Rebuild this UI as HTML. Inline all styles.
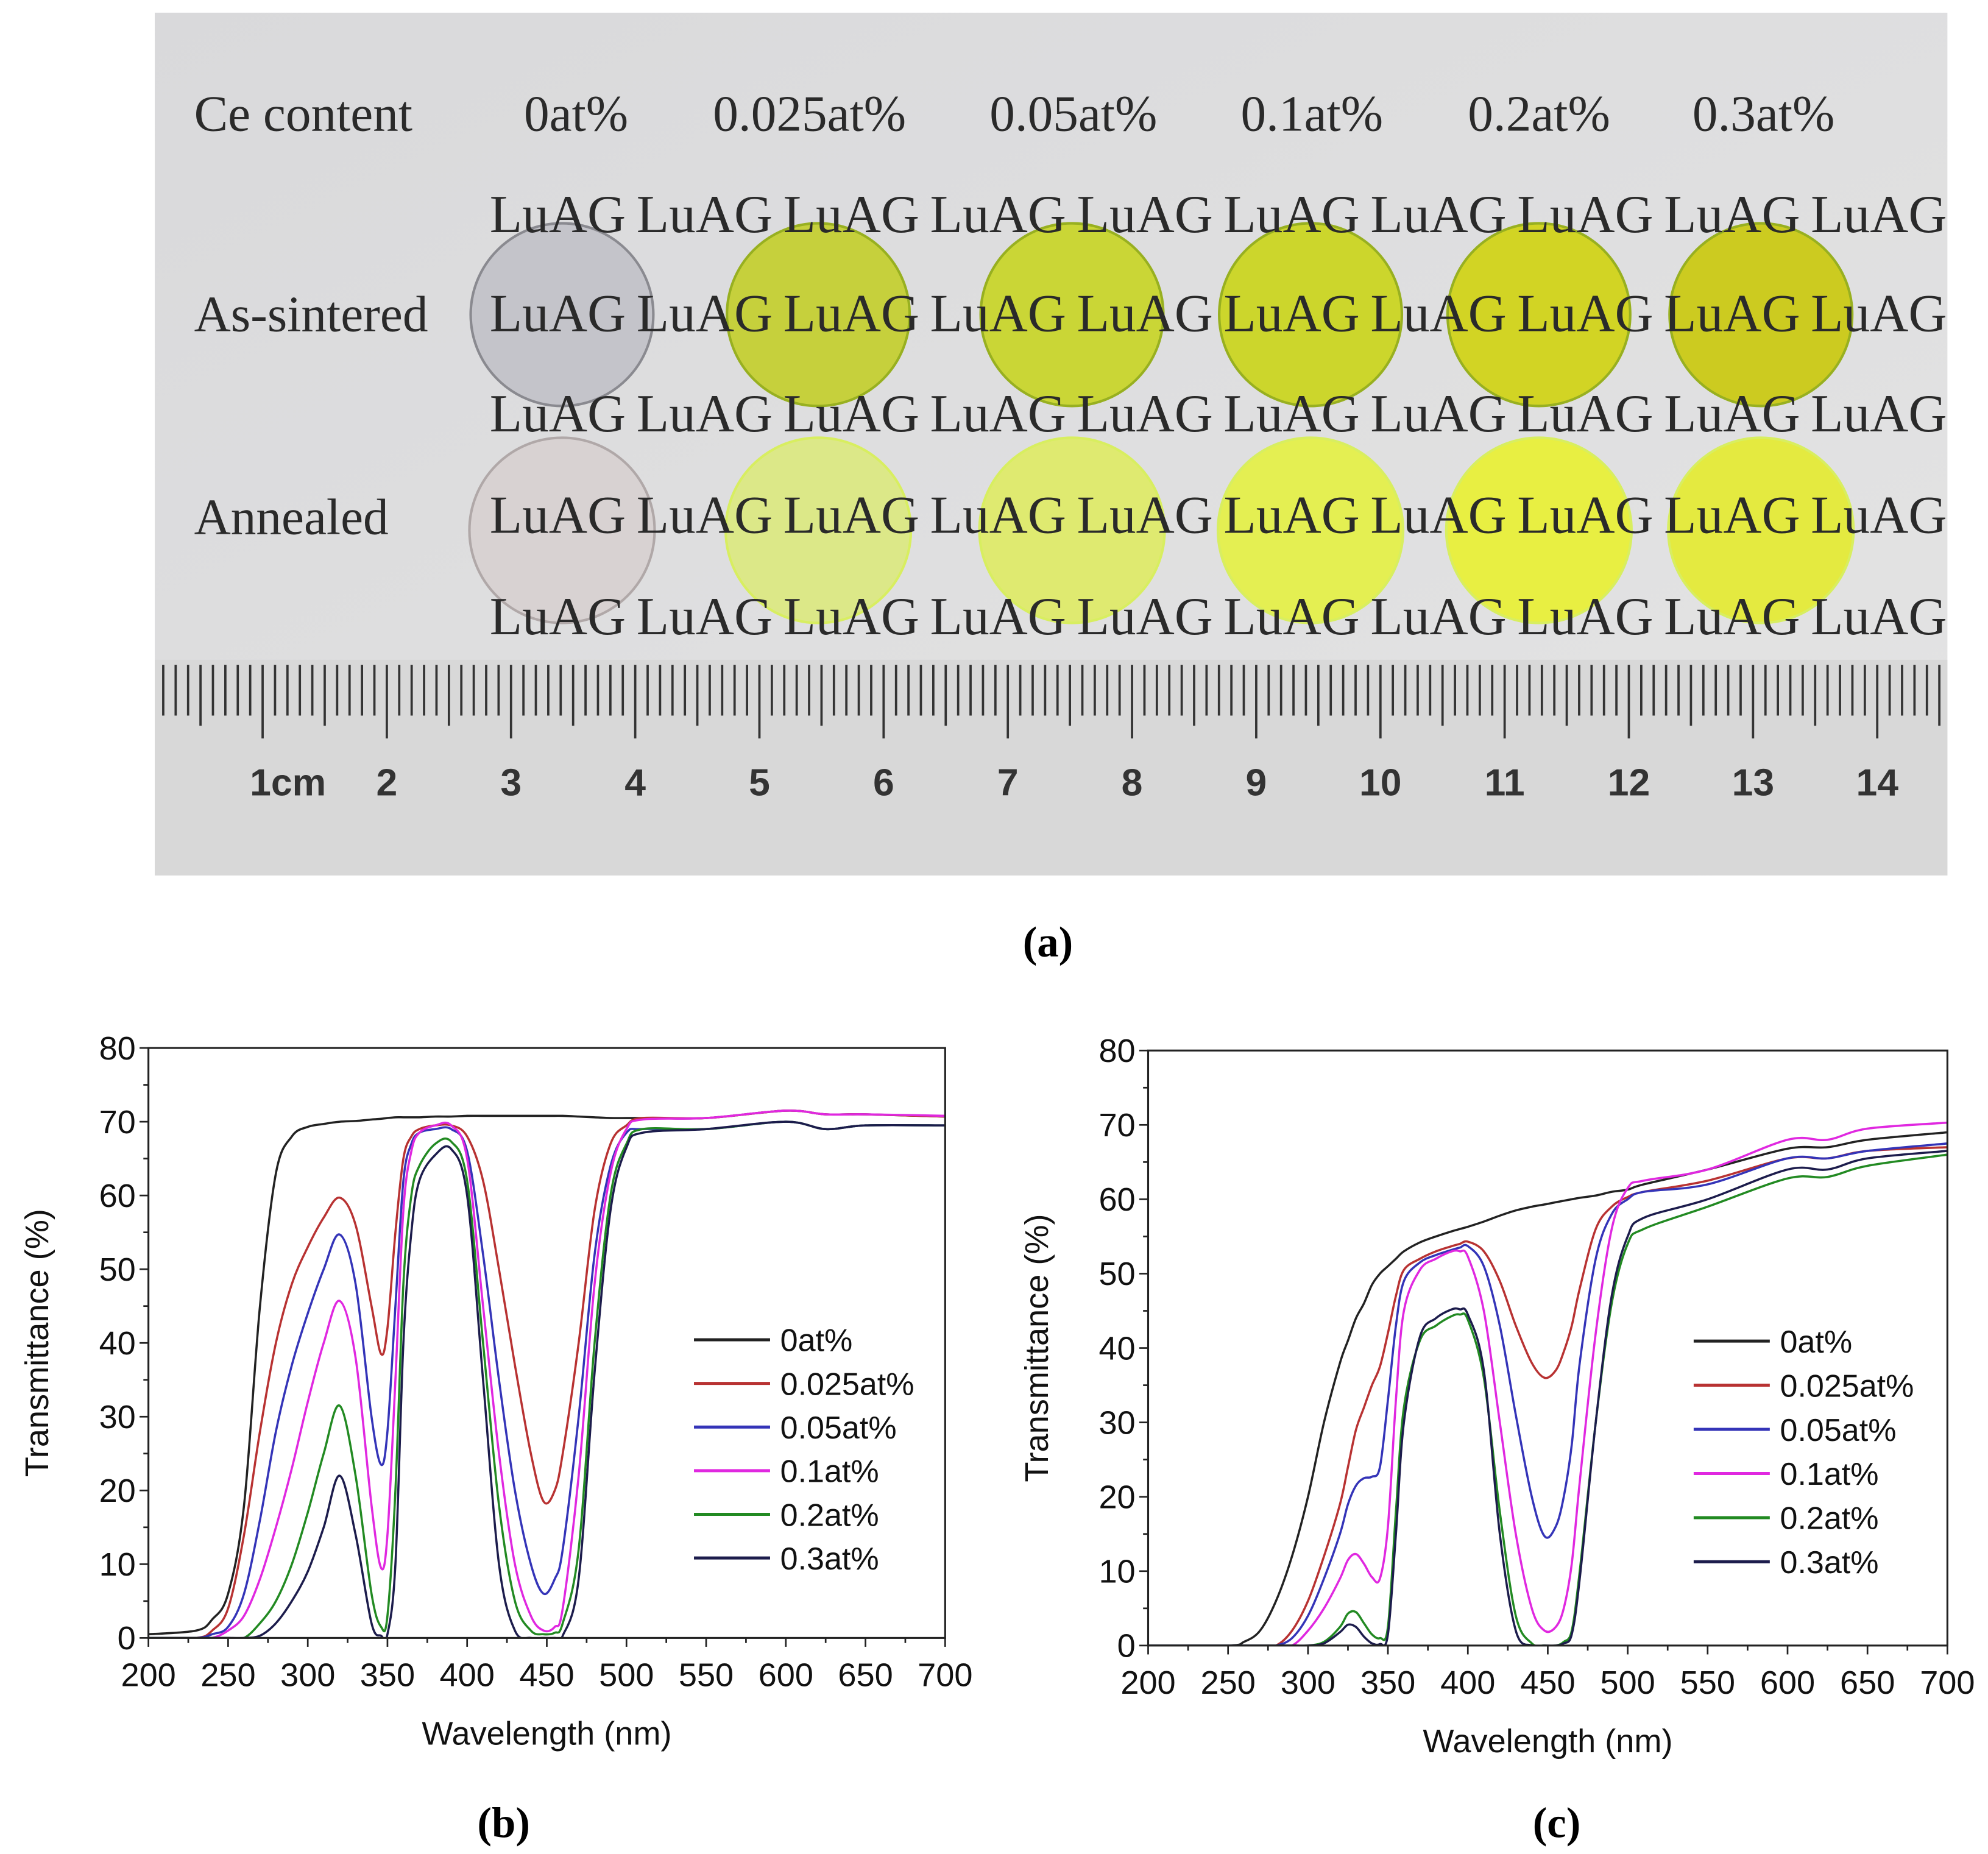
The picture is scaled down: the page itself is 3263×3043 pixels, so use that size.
<!DOCTYPE html>
<html><head><meta charset="utf-8"><style>
html,body{margin:0;padding:0;background:#fff;}
svg{display:block;}
.serif{font-family:"Liberation Serif",serif;}
.sans{font-family:"Liberation Sans",sans-serif;}
</style></head><body>
<svg id="fig" xmlns="http://www.w3.org/2000/svg" width="3263" height="3043" viewBox="0 0 1567 1461.3" preserveAspectRatio="none">
<defs>
<linearGradient id="bg" x1="0" y1="0" x2="1" y2="1">
<stop offset="0" stop-color="#d9d9db"/><stop offset="1" stop-color="#e4e4e4"/>
</linearGradient>
</defs>
<g id="photo">
<rect x="122" y="10" width="1413" height="680" fill="url(#bg)"/>
<rect x="122" y="520" width="1413" height="170" fill="#d8d8d8"/>
<g id="discs"></g>
<g id="texts" class="serif" fill="#2a2a2a" font-size="40"></g>
<g id="ruler"></g>
</g>
<text x="826" y="754" class="serif" font-weight="bold" font-size="34" text-anchor="middle">(a)</text>
<g id="chartB"></g>
<g id="chartC"></g>
<text x="397" y="1448" class="serif" font-weight="bold" font-size="34" text-anchor="middle">(b)</text>
<text x="1227" y="1448" class="serif" font-weight="bold" font-size="34" text-anchor="middle">(c)</text>
</svg>
<script>
var NS='http://www.w3.org/2000/svg';
var seriesNames=['0at%','0.025at%','0.05at%','0.1at%','0.2at%','0.3at%'];
var seriesColors=['#222222','#b83232','#3434b8','#e028e0','#228a22','#1c1c4c'];
var xTicks=[200,250,300,350,400,450,500,550,600,650,700];
var yTicks=[0,10,20,30,40,50,60,70,80];

var wavB=[200,230,240,250,260,270,280,290,300,310,320,330,340,346,350,355,360,365,370,380,390,400,410,420,430,440,448,455,460,470,480,490,500,510,550,600,625,650,700];
var b0=[0.5,1,2.5,6,18,45,63,68,69.3,69.7,70,70.1,70.3,70.4,70.5,70.6,70.6,70.6,70.6,70.7,70.7,70.8,70.8,70.8,70.8,70.8,70.8,70.8,70.8,70.7,70.6,70.5,70.5,70.5,70.5,71.5,71,71,70.7];
var b1=[0,0,1,4,14,28,40,48,53,57,59.7,56,45,38.5,42,55,65,68,69,69.5,69.5,68,62,50,37,25,18.5,20,25,40,58,67,69.5,70.5,70.5,71.5,71,71,70.7];
var b2=[0,0,0.5,1.5,6,16,28,37,44,50,54.7,48,30,23.5,28,45,62,67,68.5,69,69,66,52,35,20,10,6,8,12,30,52,64,68.5,69,69,70,69,69.5,69.5];
var b3=[0,0,0,1,3,8,15,23,32,40,45.7,38,18,9.5,14,35,58,66,68.5,69.5,69.5,65,45,25,10,3,1,1.5,4,22,48,63,69,70.3,70.5,71.5,71,71,70.8];
var b4=[0,0,0,0,0,2,5,10,17,25,31.5,22,6,1.5,3,20,48,60,64,67,67.3,62,40,18,5,1,0.5,0.7,2,12,40,60,67,69,69,70,69,69.5,69.5];
var b5=[0,0,0,0,0,0.3,2,5,9,15,22,14,2,0.3,0.5,10,40,55,62,65.5,66.3,60,35,10,1,0,0,0,0.3,8,36,58,66.5,68.5,69,70,69,69.5,69.5];

var wavC=[200,250,260,270,280,290,300,310,320,325,330,335,340,345,350,355,360,370,380,390,395,400,410,420,430,440,448,455,460,465,470,480,490,500,510,550,600,625,650,700];
var c0=[0,0,0.5,2,6,12,20,30,38,41,44,46,48.5,50,51,52,53,54.2,55,55.7,56,56.3,57,57.8,58.5,59,59.3,59.6,59.8,60,60.2,60.5,61,61.3,62,64,66.8,67,68,69];
var c1=[0,0,0,0,0,2,6,12,19,24,29,32,35,37.5,42,47,50.5,52,53,53.7,54,54.3,53,49,43,38,36,37,39.5,43,48,56,59,60.3,61,62.5,65.5,65.5,66.5,67];
var c2=[0,0,0,0,0,1,4,9,15,19,21.5,22.5,22.7,24,33,43,49,51.5,52.5,53.2,53.5,53.7,51,43,31,20,14.7,16,20,27,38,52,58,60,61,62,65.5,65.5,66.5,67.5];
var c3=[0,0,0,0,0,0,2,5,9,11.5,12.3,11,9.2,9,16,33,45,50.5,52,53,53,52.3,45,30,15,5,2,2.5,5,11,22,42,56,61.5,62.5,64,68,68,69.5,70.3];
var c4=[0,0,0,0,0,0,0,0.5,2.5,4.3,4.5,3,1.5,1,2.5,18,32,41,43,44.3,44.5,43.8,36,18,4,0.3,0,0,0.5,2,10,30,46,54,56,59,62.8,63,64.5,66];
var c5=[0,0,0,0,0,0,0,0.3,1.8,2.8,2.5,1.2,0.3,0.2,1.5,15,30,41.5,44,45.2,45.2,44.5,37,15,2,0,0,0,0.3,1.5,9,30,47,55,57.5,60,64,64,65.5,66.5];

function mk(tag,attrs,parent){var e=document.createElementNS(NS,tag);for(var k in attrs)e.setAttribute(k,attrs[k]);if(parent)parent.appendChild(e);return e;}

function smoothPath(pts){
  var d='M'+pts[0][0].toFixed(2)+','+pts[0][1].toFixed(2);
  for(var i=0;i<pts.length-1;i++){
    var p0=pts[i-1]||pts[i],p1=pts[i],p2=pts[i+1],p3=pts[i+2]||p2;
    var c1x=p1[0]+(p2[0]-p0[0])/6,c1y=p1[1]+(p2[1]-p0[1])/6;
    var c2x=p2[0]-(p3[0]-p1[0])/6,c2y=p2[1]-(p3[1]-p1[1])/6;
    d+='C'+c1x.toFixed(2)+','+c1y.toFixed(2)+' '+c2x.toFixed(2)+','+c2y.toFixed(2)+' '+p2[0].toFixed(2)+','+p2[1].toFixed(2);
  }
  return d;
}

function drawChart(g,cfg,wav,series){
  var L=cfg.L,R=cfg.R,T=cfg.T,B=cfg.B;
  function sx(v){return L+(v-200)/500*(R-L);}
  function sy(v){return B-v/80*(B-T);}
  var clip=mk('clipPath',{id:cfg.id+'clip'},g);
  mk('rect',{x:L,y:T-2,width:R-L,height:B-T+2},clip);
  var lines=mk('g',{'clip-path':'url(#'+cfg.id+'clip)'},g);
  for(var s=0;s<series.length;s++){
    var pts=[];
    for(var i=0;i<wav.length;i++)pts.push([sx(wav[i]),sy(series[s][i])]);
    var p=mk('path',{d:smoothPath(pts),fill:'none',stroke:seriesColors[s],'stroke-width':1.7},lines);
    
    
  }
  var frame=mk('rect',{x:L,y:T,width:R-L,height:B-T,fill:'none',stroke:'#222','stroke-width':1.5},g);
  
  
  var ax=mk('g',{},g);
  
  
  for(var v=200;v<=700;v+=25){
    var major=(v%50===0);
    mk('line',{x1:sx(v),x2:sx(v),y1:B,y2:B+(major?7:4),stroke:'#222','stroke-width':1.3},ax);
  }
  for(var i=0;i<xTicks.length;i++){
    var t=mk('text',{x:sx(xTicks[i]),y:B+cfg.xl,'text-anchor':'middle','font-size':26,'class':'sans',fill:'#111'},ax);
    t.textContent=xTicks[i];
  }
  var ay=mk('g',{},g);
  
  
  for(var v=0;v<=80;v+=5){
    var major=(v%10===0);
    mk('line',{x1:L,x2:L-(major?7:4),y1:sy(v),y2:sy(v),stroke:'#222','stroke-width':1.3},ay);
  }
  for(var i=0;i<yTicks.length;i++){
    var t=mk('text',{x:L-10,y:sy(yTicks[i])+9,'text-anchor':'end','font-size':26,'class':'sans',fill:'#111'},ay);
    t.textContent=yTicks[i];
  }
  var xt=mk('text',{x:(L+R)/2,y:cfg.xtY,'text-anchor':'middle','font-size':26,'class':'sans',fill:'#111'},g);
  xt.textContent='Wavelength (nm)';
  
  
  var yt=mk('text',{x:0,y:0,'text-anchor':'middle','font-size':26,'class':'sans',fill:'#111',transform:'translate('+cfg.ytX+','+((T+B)/2)+') rotate(-90)'},g);
  yt.textContent='Transmittance (%)';
  
  
  var lg=mk('g',{},g);
  
  
  for(var s=0;s<seriesNames.length;s++){
    var y=cfg.lgY+s*cfg.lgDy;
    var e=mk('g',{},lg);
    
    
    mk('line',{x1:cfg.lgX,x2:cfg.lgX+60,y1:y,y2:y,stroke:seriesColors[s],'stroke-width':2.4},e);
    var t=mk('text',{x:cfg.lgX+68,y:y+9,'font-size':25,'class':'sans',fill:'#111'},e);
    t.textContent=seriesNames[s];
  }
}

drawChart(document.getElementById('chartB'),{id:'b',L:117,R:745,T:826,B:1291,xl:38,xtY:1375,ytX:38,lgX:547,lgY:1056,lgDy:34.4},wavB,[b0,b1,b2,b3,b4,b5]);
drawChart(document.getElementById('chartC'),{id:'c',L:905,R:1535,T:828,B:1297,xl:38,xtY:1381,ytX:826,lgX:1335,lgY:1057,lgDy:34.8},wavC,[c0,c1,c2,c3,c4,c5]);

// photo
var discX=[443,645,845,1033,1213,1388];
var sinterCol=['#c4c4ca','#c6d03c','#cad636','#ccd62c','#d2d424','#cccb20'];
var annealCol=['#d8d2d2','#dce888','#dfea70','#e4ef52','#e8ef42','#e4ea40'];
var dg=document.getElementById('discs');
for(var i=0;i<6;i++){
  var c=mk('circle',{cx:discX[i],cy:248,r:72,fill:sinterCol[i],stroke:i?'#98b020':'#8a8a90','stroke-width':2},dg);
  
  
  var c2=mk('circle',{cx:discX[i],cy:418,r:73,fill:annealCol[i],stroke:i?'#d8ee60':'#b0a8a8','stroke-width':2},dg);
  
  
}
var tg=document.getElementById('texts');
var heads=[['Ce content',153],['0at%',413],['0.025at%',562],['0.05at%',780],['0.1at%',978],['0.2at%',1157],['0.3at%',1334]];
for(var i=0;i<heads.length;i++){var t=mk('text',{x:heads[i][1],y:103},tg);t.textContent=heads[i][0];

}
var rl=[['As-sintered',261],['Annealed',421]];
for(var i=0;i<2;i++){var t=mk('text',{x:153,y:rl[i][1]},tg);t.textContent=rl[i][0];

}
var rowsY=[183,261,340,420,500];
for(var r=0;r<rowsY.length;r++){for(var k=0;k<10;k++){
  var t=mk('text',{x:386+k*115.7,y:rowsY[r],'font-size':42},tg);t.textContent='LuAG';
  
  
}}
var rg=document.getElementById('ruler');


var mm=97.9/10;
for(var k=0;k*mm+128<1532;k++){
  var x=207-8*mm+k*mm; var idx=k-8;
  var len=(idx%10===0)?58:((Math.abs(idx)%5===0)?48:40);
  mk('line',{x1:x,x2:x,y1:524,y2:524+len,stroke:'#333','stroke-width':1.8},rg);
}
for(var n=1;n<=14;n++){
  var t=mk('text',{x:207+(n-1)*97.9+(n==1?20:0),y:627,'text-anchor':'middle','font-size':30,'font-weight':'bold','class':'sans',fill:'#333'},rg);
  t.textContent=(n==1?'1cm':String(n));
}
</script>
</body></html>
